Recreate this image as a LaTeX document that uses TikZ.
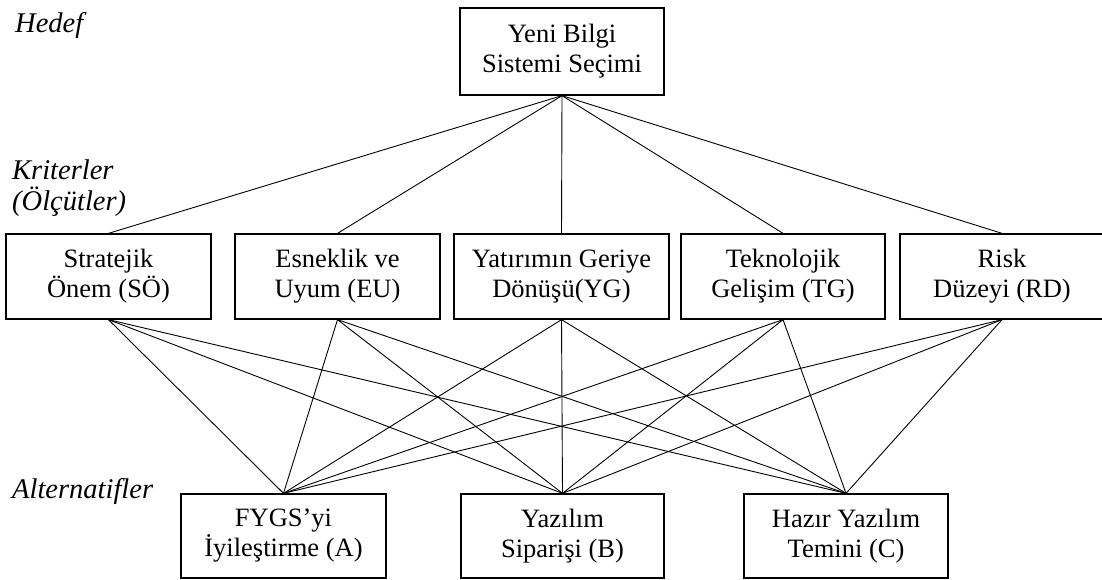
\documentclass[tikz,border=0pt]{standalone}
\usepackage{fontspec}
\setmainfont{Liberation Serif}
\begin{document}
\begin{tikzpicture}[x=1pt,y=-1pt,
  box/.style={draw=black,line width=1.3pt,inner sep=0pt,align=center,
    font=\fontsize{26.5}{30}\selectfont},
  lbl/.style={anchor=base west,inner sep=0pt,font=\fontsize{28.5}{30}\selectfont\itshape},
  link/.style={line width=0.9pt}]
\useasboundingbox (0,0) rectangle (1102,580);
% labels
\node[lbl] (hedef) at (15,33) {Hedef};
\node[lbl] (krit) at (12,180) {Kriterler};
\node[lbl] (olc) at (12,210) {(Ölçütler)};
\node[lbl] (alt) at (12,498) {Alternatifler};
% goal
\node[box,minimum width=204,minimum height=87] (goal) at (562,51.5) {Yeni Bilgi\\Sistemi Seçimi};
% criteria
\node[box,minimum width=205,minimum height=85] (c1) at (108.5,276.5) {Stratejik\\Önem (SÖ)};
\node[box,minimum width=205,minimum height=85] (c2) at (337.5,276.5) {Esneklik ve\\Uyum (EU)};
\node[box,minimum width=215,minimum height=85] (c3) at (561.5,276.5) {Yatırımın Geriye\\Dönüşü(YG)};
\node[box,minimum width=204,minimum height=85] (c4) at (783,276.5) {Teknolojik\\Gelişim (TG)};
\node[box,minimum width=204,minimum height=85] (c5) at (1002,276.5) {Risk\\Düzeyi (RD)};
% alternatives
\node[box,minimum width=205,minimum height=84] (a) at (283.5,536) {FYGS’yi\\İyileştirme (A)};
\node[box,minimum width=203,minimum height=84] (b) at (562.5,536) {Yazılım\\Siparişi (B)};
\node[box,minimum width=204,minimum height=84] (c) at (846,536) {Hazır Yazılım\\Temini (C)};
% connectors
\foreach \k in {c1,c2,c3,c4,c5}{
  \draw[link] (goal.south) -- (\k.north);
  \foreach \m in {a,b,c}{
    \draw[link] (\k.south) -- (\m.north);
  }
}
\end{tikzpicture}
\end{document}
